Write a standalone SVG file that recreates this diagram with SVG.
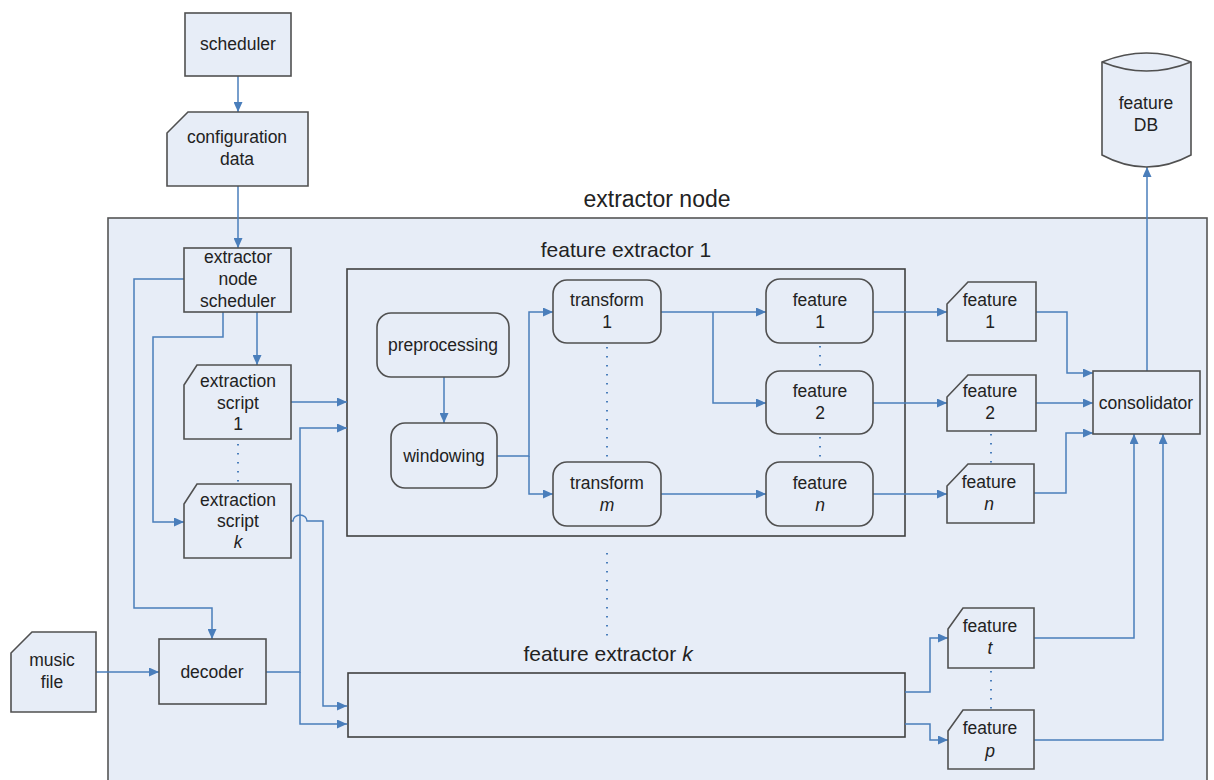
<svg xmlns="http://www.w3.org/2000/svg" width="1214" height="780" viewBox="0 0 1214 780">
<defs>
<marker id="ah" markerUnits="userSpaceOnUse" markerWidth="11" markerHeight="9" refX="10" refY="4.5" orient="auto">
<path d="M0,0 L10,4.5 L0,9 Z" fill="#4a7ebb"/>
</marker>
<style>
.n{fill:#e7edf7;stroke:#505050;stroke-width:1.6}
.c{fill:none;stroke:#4a7ebb;stroke-width:1.5}
.a{marker-end:url(#ah)}
.d{fill:none;stroke:#4a7ebb;stroke-width:2;stroke-dasharray:1.5 7.5}
text{font-family:"Liberation Sans",Arial,sans-serif;font-size:17.5px;fill:#222;text-anchor:middle}
.t{font-size:21px}
.big{font-size:23px}
.i{font-style:italic}
</style>
</defs>
<rect width="1214" height="780" fill="#ffffff"/>
<g id="extractor-node">
<rect x="108" y="218" width="1099" height="600" fill="#e7edf7" stroke="#555" stroke-width="1.6"/>
<text class="big" x="657" y="207">extractor node</text>
</g>
<g id="feature-extractor-1">
<rect x="347" y="269" width="558" height="267" fill="none" stroke="#404040" stroke-width="1.6"/>
<text class="t" x="626" y="257">feature extractor 1</text>
</g>
<g id="feature-extractor-k">
<rect x="348" y="673" width="557" height="64" fill="none" stroke="#404040" stroke-width="1.6"/>
<text class="t" x="608" y="661">feature extractor <tspan class="i">k</tspan></text>
</g>
<g id="connectors">
<path class="c a" d="M238,76 V112"/>
<path class="c a" d="M238,186 V248"/>
<path class="c a" d="M184,279 H134 V608 H212 V639"/>
<path class="c a" d="M223,312 V337 H153 V522 H184"/>
<path class="c a" d="M257,312 V365"/>
<path class="c a" d="M291,402 H347"/>
<path class="c a" d="M266,672 H300 V428 H347"/>
<path class="c a" d="M300,672 V724 H347"/>
<path class="c a" d="M291,521 H293 A7,6 0 0 1 307,521 H323 V706 H347"/>
<path class="c a" d="M96,672 H159"/>
<path class="c a" d="M444,377 V423"/>
<path class="c a" d="M497,456 H529 V312 H553"/>
<path class="c a" d="M529,456 V494 H553"/>
<path class="c a" d="M661,312 H766"/>
<path class="c a" d="M713,312 V403 H766"/>
<path class="c a" d="M661,494 H766"/>
<path class="c a" d="M873,312 H947"/>
<path class="c a" d="M873,403 H947"/>
<path class="c a" d="M873,494 H947"/>
<path class="c a" d="M1036,312 H1067 V373 H1093"/>
<path class="c a" d="M1036,403 H1093"/>
<path class="c a" d="M1034,493 H1066 V433 H1093"/>
<path class="c a" d="M1147,371 V167"/>
<path class="c a" d="M905,692 H930 V638 H948"/>
<path class="c a" d="M905,724 H930 V740 H948"/>
<path class="c a" d="M1034,638 H1134 V434"/>
<path class="c a" d="M1034,740 H1163 V434"/>
<path class="d" d="M238,444 V482"/>
<path class="d" d="M607,347 V460"/>
<path class="d" d="M820,346 V370"/>
<path class="d" d="M820,437 V461"/>
<path class="d" d="M991,434 V463"/>
<path class="d" d="M991,671 V709"/>
<path class="d" d="M607,553 V637"/>
</g>
<g id="scheduler">
<rect class="n" x="185" y="13" width="106" height="63"/>
<text x="238" y="50">scheduler</text>
</g>
<g id="configuration-data">
<path class="n" d="M188,112 H308 V186 H167 V133 Z"/>
<text x="237" y="143">configuration</text>
<text x="237" y="165">data</text>
</g>
<g id="feature-db">
<path class="n" d="M1102,62 Q1146.5,44 1191,62 V155 Q1146.5,179 1102,155 Z"/>
<path fill="none" stroke="#505050" stroke-width="1.6" d="M1102,62 Q1146.5,80 1191,62"/>
<text x="1146" y="109">feature</text>
<text x="1146" y="131">DB</text>
</g>
<g id="extractor-node-scheduler">
<rect class="n" x="184" y="248" width="107" height="64"/>
<text x="238" y="263">extractor</text>
<text x="238" y="285">node</text>
<text x="238" y="307">scheduler</text>
</g>
<g id="extraction-script-1">
<path class="n" d="M197,365 H291 V439 H184 V385 Z"/>
<text x="238" y="387">extraction</text>
<text x="238" y="409">script</text>
<text x="238" y="430">1</text>
</g>
<g id="extraction-script-k">
<path class="n" d="M197,484 H291 V558 H184 V504 Z"/>
<text x="238" y="506">extraction</text>
<text x="238" y="527">script</text>
<text class="i" x="238" y="548">k</text>
</g>
<g id="music-file">
<path class="n" d="M32,632 H96 V712 H11 V653 Z"/>
<text x="52" y="666">music</text>
<text x="52" y="688">file</text>
</g>
<g id="decoder">
<rect class="n" x="159" y="639" width="107" height="65"/>
<text x="212" y="678">decoder</text>
</g>
<g id="preprocessing">
<rect class="n" x="377" y="313" width="132" height="64" rx="14"/>
<text x="443" y="351">preprocessing</text>
</g>
<g id="windowing">
<rect class="n" x="391" y="423" width="106" height="65" rx="14"/>
<text x="444" y="462">windowing</text>
</g>
<g id="transform-1">
<rect class="n" x="553" y="280" width="108" height="63" rx="14"/>
<text x="607" y="306">transform</text>
<text x="607" y="328">1</text>
</g>
<g id="transform-m">
<rect class="n" x="553" y="462" width="108" height="64" rx="14"/>
<text x="607" y="489">transform</text>
<text class="i" x="607" y="511">m</text>
</g>
<g id="feature-1">
<rect class="n" x="766" y="279" width="107" height="64" rx="14"/>
<text x="820" y="306">feature</text>
<text x="820" y="328">1</text>
</g>
<g id="feature-2">
<rect class="n" x="766" y="371" width="107" height="63" rx="14"/>
<text x="820" y="397">feature</text>
<text x="820" y="419">2</text>
</g>
<g id="feature-n">
<rect class="n" x="766" y="462" width="107" height="64" rx="14"/>
<text x="820" y="489">feature</text>
<text class="i" x="820" y="511">n</text>
</g>
<g id="feature-1-out">
<path class="n" d="M968,282 H1036 V341 H947 V304 Z"/>
<text x="990" y="306">feature</text>
<text x="990" y="328">1</text>
</g>
<g id="feature-2-out">
<path class="n" d="M968,375 H1036 V431 H947 V397 Z"/>
<text x="990" y="397">feature</text>
<text x="990" y="419">2</text>
</g>
<g id="feature-n-out">
<path class="n" d="M968,464 H1034 V523 H947 V486 Z"/>
<text x="989" y="488">feature</text>
<text class="i" x="989" y="510">n</text>
</g>
<g id="consolidator">
<rect class="n" x="1093" y="371" width="107" height="63"/>
<text x="1146" y="409">consolidator</text>
</g>
<g id="feature-t">
<path class="n" d="M963,608 H1034 V668 H948 V629 Z"/>
<text x="990" y="632">feature</text>
<text class="i" x="990" y="654">t</text>
</g>
<g id="feature-p">
<path class="n" d="M963,710 H1034 V769 H948 V731 Z"/>
<text x="990" y="734">feature</text>
<text class="i" x="990" y="757">p</text>
</g>
</svg>
